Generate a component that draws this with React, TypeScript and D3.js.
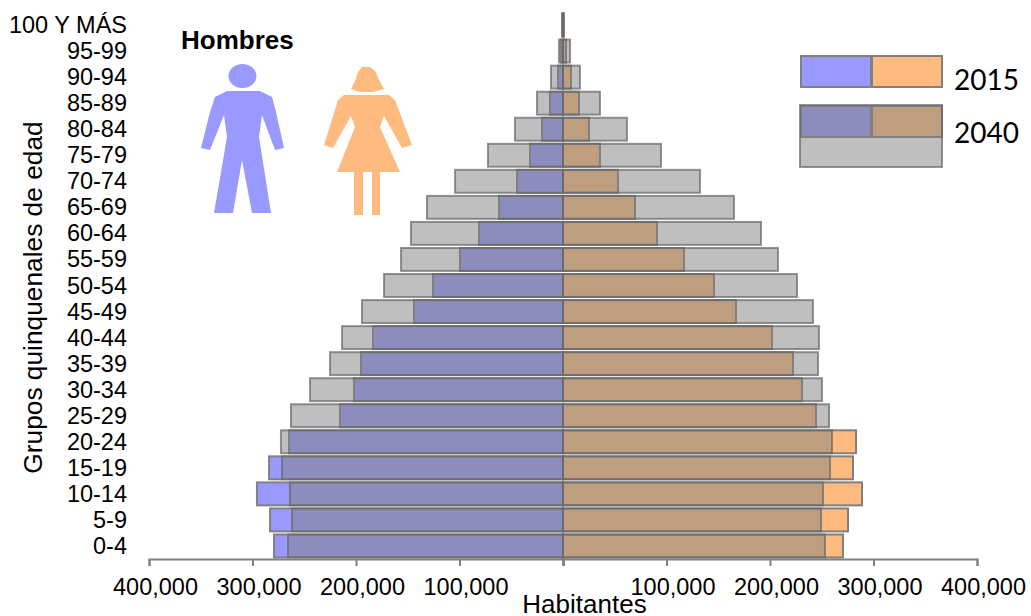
import React, { useEffect, useRef } from 'react';
import * as d3 from 'd3';

const ageGroups = [
  '0-4', '5-9', '10-14', '15-19', '20-24', '25-29', '30-34', '35-39', '40-44', '45-49', '50-54',
  '55-59', '60-64', '65-69', '70-74', '75-79', '80-84', '85-89', '90-94', '95-99', '100 Y MÁS'
];

const hombres2015 = [
  279200, 283000, 295700, 284000, 264700, 215500, 202000, 195200, 183600, 144000, 125600,
  99500, 81200, 61800, 44400, 31900, 20300, 12600, 4800, 1900, 500
];
const hombres2040 = [
  265700, 261800, 263800, 271500, 272500, 262800, 244400, 225100, 213500, 194200, 172900,
  156500, 146900, 131400, 104300, 72500, 46400, 25100, 11600, 3900, 1000
];
const mujeres2015 = [
  270500, 275400, 288900, 280200, 283100, 244400, 230900, 222200, 201900, 167100, 145900,
  116900, 90800, 69600, 53100, 35700, 25100, 15500, 7700, 2900, 500
];
const mujeres2040 = [
  253100, 249300, 251200, 258000, 259900, 257000, 250200, 246400, 247300, 241500, 226100,
  207700, 191300, 165200, 132400, 94700, 61800, 35700, 16400, 6800, 1000
];

const axisTicks = [100000, 200000, 300000, 400000];

// silhouettes
const manBody: [number, number][] = [
  [215, 97], [227, 91], [260, 91], [272, 97], [276, 112], [284, 148], [275, 150], [262, 115], [259, 137],
  [271, 213], [252, 213], [242, 160], [233, 213], [214, 213], [227, 137], [224, 115], [210, 150], [201, 148], [210, 112]
];
const womanHead: [number, number][] = [
  [362, 67], [370, 67], [376, 72], [379, 80], [384, 89], [373, 92], [360, 92], [351, 89], [355, 81], [358, 72]
];
const womanBody: [number, number][] = [
  [344, 95], [389, 95], [395, 100], [412, 145], [402, 148], [384, 116], [380, 127], [400, 172], [380, 172], [380, 215],
  [372, 215], [372, 172], [363, 172], [363, 215], [354, 215], [354, 172], [337, 172], [355, 127], [351, 116], [333, 148], [324, 145], [338, 100]
];

const BLUE = '#9999ff';
const ORANGE = '#ffbb7f';
const GRAY = '#808080';
const EDGE = '#666666';
const FONT = '"Liberation Sans", Arial, sans-serif';

const App: React.FC = () => {
  const svgRef = useRef<SVGSVGElement>(null);

  useEffect(() => {
    if (!svgRef.current) return;
    const svg = d3.select(svgRef.current);
    svg.selectAll('*').remove();

    const xLeft = d3.scaleLinear().domain([0, 400000]).range([563, 149]);
    const xRight = d3.scaleLinear().domain([0, 400000]).range([563, 977]);
    const y = d3.scaleBand<string>().domain(ageGroups).range([559, 12]).paddingInner(0.12).paddingOuter(0.06);

    const drawBars = (
      values: number[],
      scale: d3.ScaleLinear<number, number>,
      fill: string,
      overlay: boolean
    ) => {
      svg.append('g')
        .selectAll('rect')
        .data(values)
        .enter()
        .append('rect')
        .attr('x', d => Math.min(scale(d), scale(0)))
        .attr('y', (_, i) => y(ageGroups[i]) as number)
        .attr('width', d => Math.abs(scale(d) - scale(0)))
        .attr('height', y.bandwidth())
        .attr('fill', fill)
        .attr('fill-opacity', overlay ? 0.5 : 1)
        .attr('stroke', overlay ? EDGE : GRAY)
        .attr('stroke-opacity', overlay ? 0.7 : 1)
        .attr('stroke-width', 2);
    };

    // 2015 first, 2040 goes over it as translucent gray
    drawBars(hombres2015, xLeft, BLUE, false);
    drawBars(mujeres2015, xRight, ORANGE, false);
    drawBars(hombres2040, xLeft, GRAY, true);
    drawBars(mujeres2040, xRight, GRAY, true);

    // Axes
    [xLeft, xRight].forEach(scale => {
      const axis = d3.axisBottom(scale)
        .tickValues([0, ...axisTicks])
        .tickSize(7)
        .tickFormat(d => (+d === 0 ? '' : d3.format(',')(+d)));
      const g = svg.append('g').attr('transform', 'translate(0,559)').call(axis);
      g.select('.domain').attr('stroke', GRAY).attr('stroke-width', 2);
      g.selectAll('.tick line').attr('stroke', GRAY).attr('stroke-width', 2);
      g.selectAll('.tick text')
        .attr('y', 36)
        .attr('dy', 0)
        .attr('dx', 6)
        .style('font-family', FONT)
        .style('font-size', '23.5px')
        .style('fill', '#000');
    });

    // Category labels
    svg.append('g')
      .selectAll('text')
      .data(ageGroups)
      .enter()
      .append('text')
      .attr('x', 127)
      .attr('y', d => (y(d) as number) + y.bandwidth() / 2 + 8)
      .attr('text-anchor', 'end')
      .style('font-family', FONT)
      .style('font-size', '23.5px')
      .text(d => d);

    // Axis titles
    svg.append('text')
      .attr('transform', 'translate(42,297.5) rotate(-90)')
      .attr('text-anchor', 'middle')
      .style('font-family', FONT)
      .style('font-size', '26.3px')
      .text('Grupos quinquenales de edad');

    svg.append('text')
      .attr('x', 584.5)
      .attr('y', 613)
      .attr('text-anchor', 'middle')
      .style('font-family', FONT)
      .style('font-size', '26px')
      .text('Habitantes');

    svg.append('text')
      .attr('x', 181)
      .attr('y', 49)
      .style('font-family', FONT)
      .style('font-size', '26px')
      .style('font-weight', 'bold')
      .text('Hombres');

    // Pictograms
    const outline = d3.line().curve(d3.curveLinearClosed);
    svg.append('ellipse')
      .attr('cx', 242.5).attr('cy', 76).attr('rx', 14).attr('ry', 12)
      .attr('fill', BLUE);
    svg.append('path').attr('d', outline(manBody)).attr('fill', BLUE);
    svg.append('path').attr('d', outline(womanHead)).attr('fill', ORANGE);
    svg.append('path').attr('d', outline(womanBody)).attr('fill', ORANGE);

    // Legend
    const swatch = (x: number, yy: number, w: number, h: number, fill: string, overlay = false) => {
      svg.append('rect')
        .attr('x', x).attr('y', yy).attr('width', w).attr('height', h)
        .attr('fill', fill)
        .attr('fill-opacity', overlay ? 0.5 : 1)
        .attr('stroke', overlay ? EDGE : GRAY)
        .attr('stroke-opacity', overlay ? 0.7 : 1)
        .attr('stroke-width', 2);
    };
    swatch(801, 56, 70, 31, BLUE);
    swatch(872, 56, 70, 31, ORANGE);
    swatch(801, 106, 70, 31, BLUE);
    swatch(872, 106, 70, 31, ORANGE);
    swatch(800, 105, 142, 62, GRAY, true);

    [['2015', 90], ['2040', 143]].forEach(([label, yy]) => {
      svg.append('text')
        .attr('x', 954)
        .attr('y', yy as number)
        .style('font-family', 'Lato, sans-serif')
        .style('font-size', '28px')
        .text(label as string);
    });
  }, []);

  return (
    <div style={{ position: 'absolute', left: 0, top: 0 }}>
      <svg ref={svgRef} width={1031} height={616} style={{ display: 'block', background: '#fff' }} />
    </div>
  );
};

export default App;
